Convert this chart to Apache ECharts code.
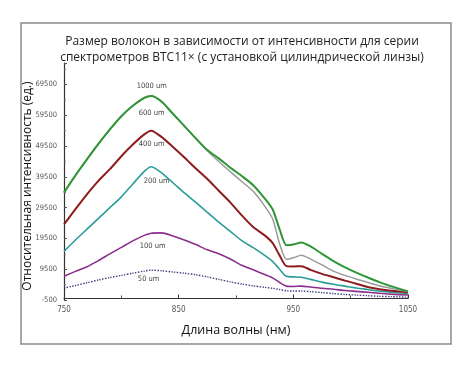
<!DOCTYPE html>
<html><head><meta charset="utf-8">
<script src="https://cdn.jsdelivr.net/npm/echarts@6/dist/echarts.min.js"></script>
<style>html,body{margin:0;padding:0;background:#fff}#c{width:474px;height:366px}</style>
</head><body><div id="c"></div>
<script>
const wavelengths = [750,760,770,780,790,800,810,820,826,835,845,855,865,875,885,895,905,915,925,932,938,944,950,957,965,975,985,995,1005,1015,1025,1035,1050];
const s1000 = [34400,40000,45200,50200,54900,59200,62600,65200,65800,64000,60000,56000,52000,48200,45500,42500,39800,36800,32500,28900,22500,17300,17500,18200,16900,14500,12100,10100,8400,6800,5300,4000,2300];
const s600  = [34400,40000,45200,50200,54900,59200,62600,65200,65800,64000,60000,56000,52000,48000,44500,41200,38000,34800,30000,25800,17800,12700,13200,14000,12800,10900,8900,7500,6300,5200,4100,3300,2200];
const s400  = [24100,29000,33800,38200,42000,46200,50000,53300,54500,52500,49200,45800,42200,38800,35000,31200,27000,23200,20500,18000,14000,10500,10400,10500,9300,8000,6900,5800,4800,3700,3000,2500,2000];
const s200  = [15300,19000,22500,26000,29500,33000,37200,41300,42800,40800,37600,34300,31200,28000,24800,21800,18800,16500,14000,12000,9500,7200,7000,6900,6200,5300,4600,4000,3400,2900,2400,2000,1600];
const s100  = [7200,8800,10300,12300,14500,16600,18700,20500,21200,21300,20300,19000,17500,15800,14500,12800,10800,9300,7800,6700,5200,4000,3900,4000,3700,3300,3000,2600,2300,2000,1700,1400,1100];
const s50   = [3400,4200,5100,6000,6800,7500,8200,8900,9200,9000,8600,8200,7700,7000,6200,5400,4700,4100,3600,3300,2900,2500,2400,2400,2200,1900,1600,1300,1100,900,700,600,400];
const seriesNames = ['1000 um','600 um','400 um','200 um','100 um','50 um'];
const labelX = [826.5,826.5,826.5,830.8,827.3,823.8];
const labelY = [69050,60300,50300,38000,16900,6300];
const xTicks = [750,850,950,1050];
const yTicks = [-500,9500,19500,29500,39500,49500,59500,69500];
const titleText = 'Размер волокон в зависимости от интенсивности для серии\nспектрометров BTC11× (с установкой цилиндрической линзы)';

const colors = ['#2e9636','#9a9a9a','#8e1c1c','#2a9c98','#8a2e8c','#3c3c7e'];
const widths = [2,1.5,2,1.6,1.6,1.4];
const types = ['solid','solid','solid','solid','solid','dotted'];
const allData = [s1000,s600,s400,s200,s100,s50];
const order = [1,0,2,3,4,5];

const series = order.map(i => ({
  type:'line', name: seriesNames[i],
  data: wavelengths.map((w,k)=>[w, allData[i][k]]),
  showSymbol:false, smooth:0.25,
  lineStyle:{color:colors[i], width:widths[i], type:types[i]},
  z: 10 - i,
  markPoint:{
    symbol:'circle', symbolSize:0, silent:true,
    label:{show:true, formatter:'{b}', color:'#444', fontSize:7.5, fontFamily:'Liberation Sans Narrow, DejaVu Sans Condensed, sans-serif'},
    data:[{name: seriesNames[i], coord:[labelX[i], labelY[i]]}]
  }
}));

const chart = echarts.init(document.getElementById('c'));
chart.setOption({
  animation:false,
  backgroundColor:'#fff',
  title:{text:titleText, left:237, top:29, textAlign:'center',
    textStyle:{fontFamily:'Open Sans, Noto Sans, sans-serif', fontSize:12, fontWeight:'normal', color:'#222', lineHeight:15.5, align:'center'}},
  graphic:[
    {type:'rect', shape:{x:21,y:23,width:430,height:321}, style:{fill:'none', stroke:'#8a8a8a', lineWidth:1.5}, silent:true},
    {type:'text', x:28, y:186, rotation:Math.PI/2, silent:true,
      style:{text:'Относительная интенсивность (ед.)', fontFamily:'Open Sans, Noto Sans, sans-serif', fontSize:12, fill:'#111', align:'center', verticalAlign:'middle'}}
  ],
  grid:{left:64, right:66, top:63, bottom:66},
  xAxis:{type:'value', min:750, max:1050, interval:100,
    name:'Длина волны (нм)', nameLocation:'middle', nameGap:24,
    nameTextStyle:{fontFamily:'Open Sans, Noto Sans, sans-serif', fontSize:12.5, color:'#111'},
    axisLine:{show:true, lineStyle:{color:'#333', width:1.2}},
    axisTick:{show:true, inside:true, length:4, lineStyle:{color:'#333'}},
    minorTick:{show:true, splitNumber:2, length:3, lineStyle:{color:'#555'}},
    splitLine:{show:false},
    axisLabel:{color:'#555', fontSize:8, margin:6, fontFamily:'Liberation Sans Narrow, DejaVu Sans Condensed, sans-serif',
      formatter: v => xTicks.includes(v) ? String(v) : ''}
  },
  yAxis:{type:'value', min:-500, max:76500, interval:10000,
    axisLine:{show:true, lineStyle:{color:'#333', width:1.2}},
    axisTick:{show:true, inside:true, length:3, lineStyle:{color:'#555'}},
    minorTick:{show:true, splitNumber:2, length:2, lineStyle:{color:'#777'}},
    splitLine:{show:false},
    axisLabel:{color:'#555', fontSize:7.5, margin:7, showMaxLabel:false, fontFamily:'Liberation Sans Narrow, DejaVu Sans Condensed, sans-serif',
      formatter: v => yTicks.includes(v) ? String(v) : ''}
  },
  series: series
});
</script></body></html>
